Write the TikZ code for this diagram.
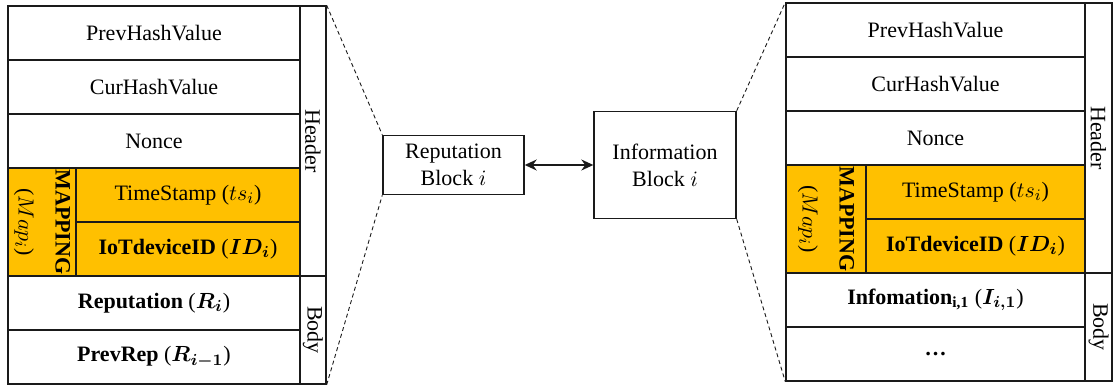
\documentclass[tikz,border=0pt]{standalone}
\usepackage{fontspec}
\setmainfont{Liberation Serif}
\usepackage{bm}
\usetikzlibrary{arrows.meta}
\definecolor{ink}{HTML}{1A1A1A}
\definecolor{mapgold}{HTML}{FFC000}
\tikzset{
  cell/.style={draw=ink,fill=white,line width=0.7pt,inner sep=0pt,
               minimum height=27pt,font=\fontsize{11}{13}\selectfont},
  mapcell/.style={cell,fill=mapgold},
  sidecell/.style={cell,minimum width=13pt},
  sidetext/.style={rotate=-90,inner sep=0pt,font=\fontsize{11}{13}\selectfont},
  maptext/.style={rotate=-90,align=center,inner sep=0pt,
                  font=\fontsize{11}{18.5}\selectfont},
  blockbox/.style={draw=ink,fill=white,line width=0.7pt,align=center,
                   inner sep=0pt,font=\fontsize{11}{13.5}\selectfont},
  zoomline/.style={ink,line width=0.45pt,dash pattern=on 2pt off 1.5pt},
  linkarr/.style={{Stealth[length=6pt,width=5.5pt]}-{Stealth[length=6pt,width=5.5pt]},
                  line width=0.75pt,color=ink}
}

\begin{document}
\begin{tikzpicture}[x=0.5pt,y=-0.5pt]
  \useasboundingbox (0,0) rectangle (1113,385);

  % reputation block, expanded
  \node[cell,minimum width=146pt] (lprev) at (154,33) {PrevHashValue};
  \node[cell,minimum width=146pt] (lcur) at (154,87) {CurHashValue};
  \node[cell,minimum width=146pt] (lnonce) at (154,141) {Nonce};
  \node[mapcell,minimum width=34pt,minimum height=54pt] (lmap) at (42,222) {};
  \node[maptext] (lmaptxt) at (lmap) {\textbf{MAPPING}\\($Map_i$)};
  \node[mapcell,minimum width=112pt] (lts) at (188,195) {TimeStamp ($ts_i$)};
  \node[mapcell,minimum width=112pt] (lid) at (188,249) {\textbf{IoTdeviceID} ($\bm{ID_i}$)};
  \node[cell,minimum width=146pt] (lrep) at (154,303) {\textbf{Reputation} ($\bm{R_i}$)};
  \node[cell,minimum width=146pt] (lprevrep) at (154,357) {\textbf{PrevRep} ($\bm{R_{i-1}}$)};
  \node[sidecell,minimum height=135pt] (lhdr) at (313,141) {};
  \node[sidetext] (lhdrtxt) at (lhdr) {Header};
  \node[sidecell,minimum height=54pt] (lbody) at (313,330) {};
  \node[sidetext] (lbodytxt) at (lbody) {Body};

  % the two linked blocks
  \node[blockbox,minimum width=70.5pt,minimum height=29.5pt] (repblk) at (453.5,165)
    {Reputation\\Block $i$};
  \node[blockbox,minimum width=71pt,minimum height=53.5pt] (infoblk) at (665,165)
    {Information\\Block $i$};
  \draw[linkarr] (repblk.east) -- (infoblk.west);

  % information block, expanded
  \node[cell,minimum width=149.5pt] (rprev) at (935.5,30) {PrevHashValue};
  \node[cell,minimum width=149.5pt] (rcur) at (935.5,84) {CurHashValue};
  \node[cell,minimum width=149.5pt] (rnonce) at (935.5,138) {Nonce};
  \node[mapcell,minimum width=40pt,minimum height=54pt] (rmap) at (826,219) {};
  \node[maptext] (rmaptxt) at (rmap) {\textbf{MAPPING}\\($Map_i$)};
  \node[mapcell,minimum width=109.5pt] (rts) at (975.5,192) {TimeStamp ($ts_i$)};
  \node[mapcell,minimum width=109.5pt] (rid) at (975.5,246) {\textbf{IoTdeviceID} ($\bm{ID_i}$)};
  \node[cell,minimum width=149.5pt] (rinfo) at (935.5,300)
    {\textbf{Infomation\textsubscript{i,1}} ($\bm{I_{i,1}}$)};
  \node[cell,minimum width=149.5pt] (rdots) at (935.5,354) {\textbf{\dots}};
  \node[sidecell,minimum width=13.5pt,minimum height=135pt] (rhdr) at (1098.5,138) {};
  \node[sidetext] (rhdrtxt) at (rhdr) {Header};
  \node[sidecell,minimum width=13.5pt,minimum height=54pt] (rbody) at (1098.5,327) {};
  \node[sidetext] (rbodytxt) at (rbody) {Body};

  % zoom guides
  \draw[zoomline] (lhdr.north east) -- (repblk.north west);
  \draw[zoomline] (lbody.south east) -- (repblk.south west);
  \draw[zoomline] (infoblk.north east) -- (rprev.north west);
  \draw[zoomline] (infoblk.south east) -- (rdots.south west);
\end{tikzpicture}
\end{document}
